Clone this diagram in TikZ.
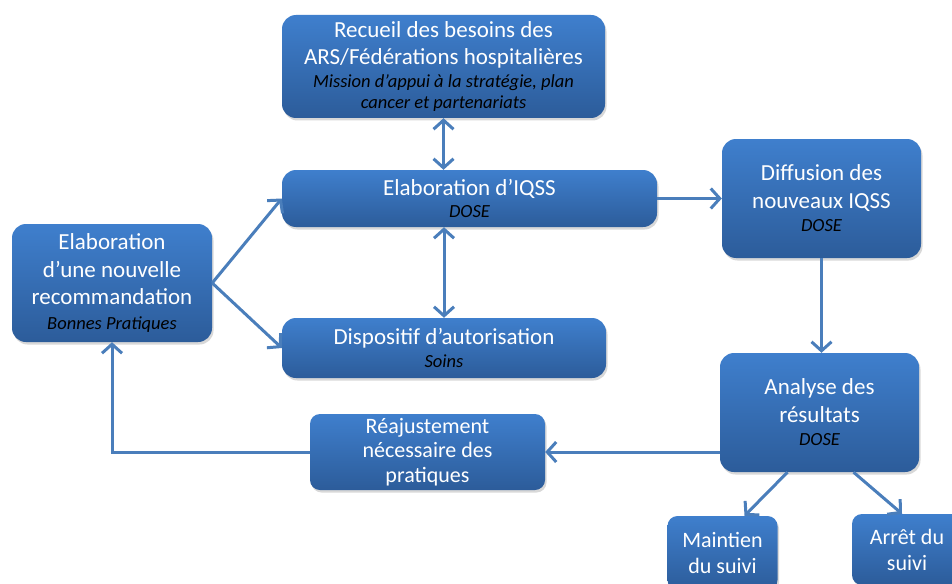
\documentclass[tikz,border=0pt]{standalone}
\usepackage{fontspec}
\setmainfont{Carlito}
\usetikzlibrary{arrows.meta,shadows}
\definecolor{boxtop}{HTML}{3F7FCD}
\definecolor{boxbot}{HTML}{2C5C9A}
\definecolor{arrc}{HTML}{4A7EBB}
\newcommand{\subt}[1]{{\color{black}\itshape\fontsize{18.5}{22}\selectfont #1}}
\begin{document}
\begin{tikzpicture}[x=1pt,y=-1pt,
  box/.style={rounded corners=14pt, top color=boxtop, bottom color=boxbot, draw=none,
    text=white, align=center, inner sep=0pt,
    font=\fontsize{23}{27.5}\selectfont,
    drop shadow={shadow xshift=1.5pt,shadow yshift=-2.5pt,opacity=0.3}},
  smallbox/.style={box, rounded corners=10pt},
  arr/.style={draw=arrc, line width=3pt, -{Straight Barb[length=9pt,width=20pt]}},
  darr/.style={draw=arrc, line width=3pt, {Straight Barb[length=9pt,width=20pt]}-{Straight Barb[length=9pt,width=20pt]}}
]
\useasboundingbox (0,0) rectangle (952,583);
\fill[white] (0,0) rectangle (952,583);

\node[box, minimum width=323pt, minimum height=103pt] (rec) at (443.5,66.5)
  {Recueil des besoins des\\ARS/Fédérations hospitalières\\[-5pt]\subt{Mission d’appui à la stratégie, plan}\\[-6pt]\subt{cancer et partenariats}};
\node[box, minimum width=375pt, minimum height=57pt] (iqss) at (469.5,198.5)
  {Elaboration d’IQSS\\[-6pt]\subt{DOSE}};
\node[box, minimum width=324pt, minimum height=60pt] (disp) at (444,348)
  {Dispositif d’autorisation\\[-5pt]\subt{Soins}};
\node[box, minimum width=200pt, minimum height=118pt] (reco) at (112,283)
  {Elaboration\\d’une nouvelle\\recommandation\\[-3pt]\subt{Bonnes Pratiques}};
\node[box, minimum width=199pt, minimum height=119pt] (diff) at (821.5,198.5)
  {Diffusion des\\nouveaux IQSS\\[-4pt]\subt{DOSE}};
\node[box, minimum width=199pt, minimum height=119pt] (ana) at (819.5,412.5)
  {Analyse des\\résultats\\[-4pt]\subt{DOSE}};
\node[smallbox, minimum width=235pt, minimum height=76pt, font=\fontsize{22}{24.5}\selectfont] (rea) at (427.5,452)
  {Réajustement\\nécessaire des\\pratiques};
\node[smallbox, minimum width=110pt, minimum height=74pt, font=\fontsize{22}{26}\selectfont] (main) at (722.5,553)
  {Maintien\\du suivi};
\node[smallbox, minimum width=110pt, minimum height=71pt, font=\fontsize{22}{26}\selectfont] (arret) at (907,549.5)
  {Arrêt du\\suivi};

\draw[darr] (rec.south) -- (rec.south |- iqss.north);
\draw[darr] (iqss.south -| disp.north) -- (disp.north);
\draw[arr] (reco.east) -- (iqss.west);
\draw[arr] (reco.east) -- (disp.west);
\draw[arr] (iqss.east) -- (iqss.east -| diff.west);
\draw[arr] (diff.south) -- (diff.south |- ana.north);
\draw[arr] (ana.west |- rea.east) -- (rea.east);
\draw[arr] (rea.west) -| (reco.south);
\draw[arr] ([xshift=-32pt]ana.south) -- ([xshift=22pt]main.north);
\draw[arr] ([xshift=34pt]ana.south) -- ([xshift=-5pt]arret.north);
\end{tikzpicture}
\end{document}
